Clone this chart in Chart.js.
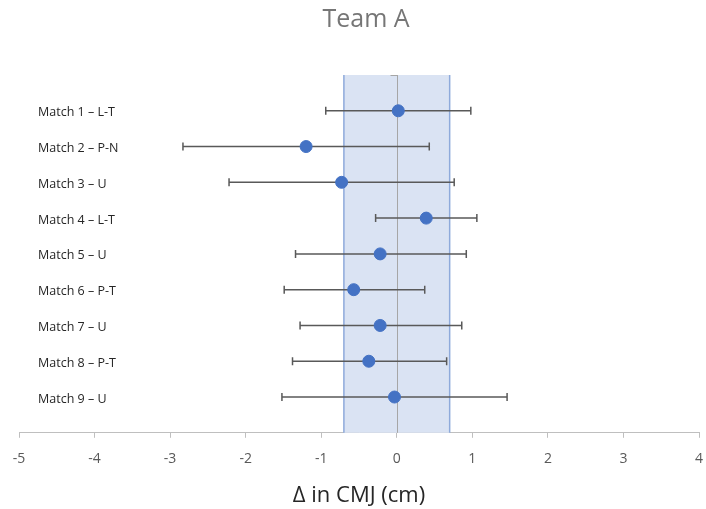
<!DOCTYPE html>
<html>
<head>
<meta charset="utf-8">
<script src="https://cdn.jsdelivr.net/npm/chart.js@4"></script>
<style>
  html, body { margin: 0; padding: 0; background: #fff; }
  #wrap { width: 706px; height: 509px; }
</style>
</head>
<body>
<div id="wrap"><canvas id="forest-chart"></canvas></div>
<script>
// Chart data
const matchLabels = ['Match 1 – L-T', 'Match 2 – P-N', 'Match 3 – U', 'Match 4 – L-T', 'Match 5 – U',
                     'Match 6 – P-T', 'Match 7 – U', 'Match 8 – P-T', 'Match 9 – U'];
const rowY = [9, 8, 7, 6, 5, 4, 3, 2, 1];
const meanDelta = [0.02, -1.20, -0.73, 0.39, -0.22, -0.57, -0.22, -0.37, -0.03];
const lowerCI = [-0.94, -2.83, -2.22, -0.28, -1.34, -1.49, -1.28, -1.38, -1.52];
const upperCI = [0.98, 0.43, 0.76, 1.06, 0.92, 0.37, 0.86, 0.66, 1.46];
const bandLow = -0.7;   // shaded zone (smallest worthwhile change)
const bandHigh = 0.7;
const xTicks = [-5, -4, -3, -2, -1, 0, 1, 2, 3, 4];
const chartTitle = 'Team A';

const fontFamily = '"Open Sans", "Noto Sans", sans-serif';

// Shaded band and the zero line, behind the points
const bandPlugin = {
    id: 'band',
    beforeDatasetsDraw(chart) {
        const { ctx, chartArea, scales } = chart;
        const x = scales.x;
        const left = x.getPixelForValue(bandLow);
        const right = x.getPixelForValue(bandHigh);
        ctx.save();
        ctx.fillStyle = '#dae3f3';
        ctx.fillRect(left, chartArea.top, right - left, chartArea.bottom - chartArea.top);
        ctx.strokeStyle = '#8eaadb';
        ctx.lineWidth = 1.5;
        ctx.beginPath();
        ctx.moveTo(left, chartArea.top);
        ctx.lineTo(left, chartArea.bottom);
        ctx.moveTo(right, chartArea.top);
        ctx.lineTo(right, chartArea.bottom);
        ctx.stroke();
        const zero = Math.round(x.getPixelForValue(0)) + 0.5;
        ctx.strokeStyle = '#a6a6a6';
        ctx.lineWidth = 1;
        ctx.beginPath();
        ctx.moveTo(zero, chartArea.top);
        ctx.lineTo(zero, chartArea.bottom);
        ctx.moveTo(zero - 7, chartArea.top + 0.5);  // little cap on top of the zero line
        ctx.lineTo(zero, chartArea.top + 0.5);
        ctx.stroke();
        ctx.restore();
    }
};

// Horizontal error bars with caps
const errorBarPlugin = {
    id: 'errorBars',
    beforeDatasetsDraw(chart) {
        const { ctx, scales } = chart;
        ctx.save();
        ctx.strokeStyle = '#595959';
        ctx.lineWidth = 1.5;
        for (let i = 0; i < rowY.length; i++) {
            const y = scales.y.getPixelForValue(rowY[i]);
            const x1 = scales.x.getPixelForValue(lowerCI[i]);
            const x2 = scales.x.getPixelForValue(upperCI[i]);
            ctx.beginPath();
            ctx.moveTo(x1, y);
            ctx.lineTo(x2, y);
            ctx.moveTo(x1, y - 4);
            ctx.lineTo(x1, y + 4);
            ctx.moveTo(x2, y - 4);
            ctx.lineTo(x2, y + 4);
            ctx.stroke();
        }
        ctx.restore();
    }
};

// Match names written inside the plot, left aligned, plus the chart title
const textPlugin = {
    id: 'rowLabels',
    afterDatasetsDraw(chart) {
        const { ctx, chartArea, scales } = chart;
        ctx.save();
        ctx.font = '12.5px ' + fontFamily;
        ctx.fillStyle = '#262626';
        ctx.textAlign = 'left';
        ctx.textBaseline = 'middle';
        matchLabels.forEach((label, i) => {
            ctx.fillText(label, chartArea.left + 19, scales.y.getPixelForValue(rowY[i]) + 2);
        });
        // title sits a bit right of the plot centre, as in the original
        ctx.font = '25px ' + fontFamily;
        ctx.fillStyle = '#767676';
        ctx.textAlign = 'center';
        ctx.fillText(chartTitle, (chartArea.left + chartArea.right) / 2 + 7, 20);
        ctx.restore();
    }
};

const ctx = document.getElementById('forest-chart').getContext('2d');
const forestChart = new Chart(ctx, {
    type: 'scatter',
    data: {
        datasets: [{
            label: chartTitle,
            data: meanDelta.map((v, i) => ({ x: v, y: rowY[i] })),
            backgroundColor: '#4472c4',
            borderColor: '#4472c4',
            pointRadius: 6,
            pointHoverRadius: 6
        }]
    },
    options: {
        responsive: true,
        maintainAspectRatio: false,
        animation: false,
        layout: { padding: { left: 19, right: 7, top: 75, bottom: 0 } },
        plugins: {
            legend: { display: false },
            tooltip: { enabled: false },
            title: { display: false }
        },
        scales: {
            x: {
                type: 'linear',
                min: -5,
                max: 4,
                afterBuildTicks: axis => { axis.ticks = xTicks.map(v => ({ value: v })); },
                // let the layout padding alone decide the plot edges
                afterFit: axis => { axis.paddingLeft = 0; axis.paddingRight = 0; },
                grid: { drawOnChartArea: false, drawTicks: true, tickLength: 5, color: '#bfbfbf' },
                border: { color: '#bfbfbf', width: 1 },
                ticks: {
                    color: '#595959',
                    padding: 13,
                    maxRotation: 0,
                    font: { family: fontFamily, size: 14 }
                },
                title: {
                    display: true,
                    text: 'Δ in CMJ (cm)',
                    color: '#262626',
                    font: { family: fontFamily, size: 22 },
                    padding: { top: 2, bottom: 0 }
                }
            },
            y: {
                display: false,
                min: 0,
                max: 10
            }
        }
    },
    plugins: [bandPlugin, errorBarPlugin, textPlugin]
});
</script>
</body>
</html>
